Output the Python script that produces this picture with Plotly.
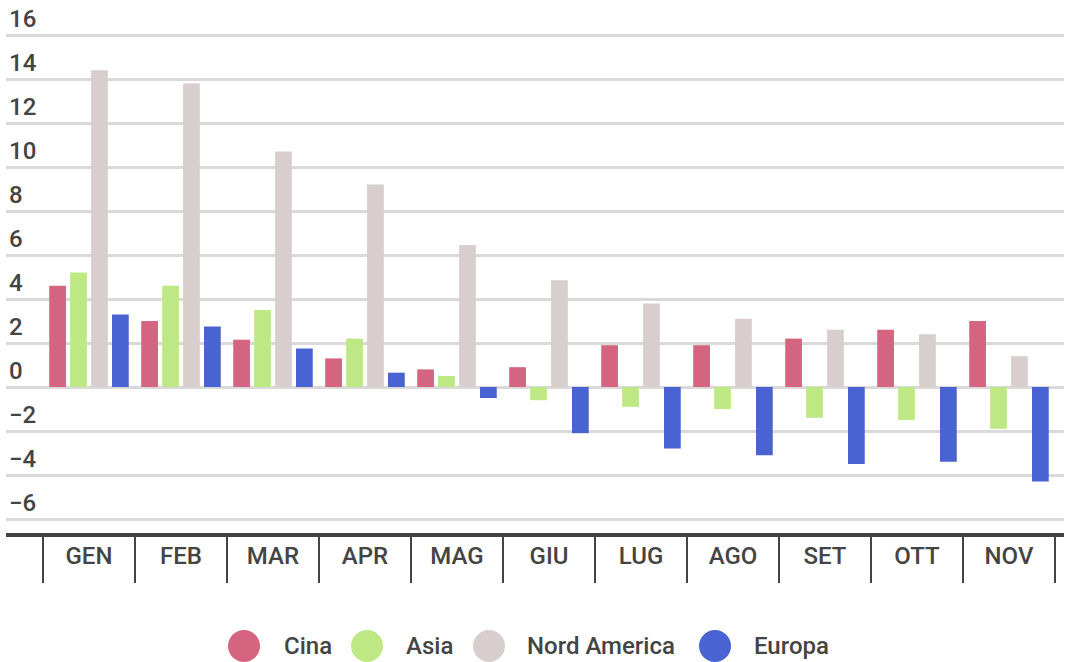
import plotly.graph_objects as go

# Monthly values per region
months = ["GEN", "FEB", "MAR", "APR", "MAG", "GIU", "LUG", "AGO", "SET", "OTT", "NOV"]
cina = [4.6, 3.0, 2.15, 1.3, 0.8, 0.9, 1.9, 1.9, 2.2, 2.6, 3.0]
asia = [5.2, 4.6, 3.5, 2.2, 0.5, -0.6, -0.9, -1.0, -1.4, -1.5, -1.9]
nord_america = [14.4, 13.8, 10.7, 9.2, 6.45, 4.85, 3.8, 3.1, 2.6, 2.4, 1.4]
europa = [3.3, 2.75, 1.75, 0.65, -0.5, -2.1, -2.8, -3.1, -3.5, -3.4, -4.3]

series_names = ["Cina", "Asia", "Nord America", "Europa"]
series_values = [cina, asia, nord_america, europa]
series_colors = ["#D46480", "#BEE884", "#D8CECD", "#4A63D2"]

W, H = 1071, 662
M_L, M_R, M_T, M_B = 6, 7, 0, 129
PLOT_W = W - M_L - M_R
PLOT_H = H - M_T - M_B
TEXT = "#444444"
FONT = "Roboto"
FONT_W = 500

fig = go.Figure()
for name, vals, col in zip(series_names, series_values, series_colors):
    fig.add_trace(go.Bar(x=months, y=vals, name=name, marker=dict(color=col, line=dict(width=0)),
                         showlegend=False))

# Custom legend: large round swatches with labels underneath the plot
legend_circle_px = [244, 367, 489, 715]
legend_text_px = [282, 404, 525, 752]
legend_y = (H - M_B - 646) / PLOT_H
shapes = []
annotations = []
for name, col, cx, tx in zip(series_names, series_colors, legend_circle_px, legend_text_px):
    xp = (cx - M_L) / PLOT_W
    shapes.append(dict(type="circle", xref="paper", yref="paper",
                       xsizemode="pixel", ysizemode="pixel",
                       xanchor=xp, yanchor=legend_y,
                       x0=-16, x1=16, y0=-16, y1=16,
                       fillcolor=col, line=dict(width=0)))
    annotations.append(dict(xref="paper", yref="paper", x=(tx - M_L) / PLOT_W, y=legend_y,
                            xanchor="left", yanchor="middle", showarrow=False,
                            text=name, font=dict(family=FONT, size=24, color=TEXT, weight=FONT_W)))

# y scale: 0 sits 387 px from the top, 22 px per unit
y_top = 387 / 22
y_bottom = -(533 - 387) / 22

fig.update_layout(
    width=W, height=H,
    margin=dict(l=M_L, r=M_R, t=M_T, b=M_B, pad=0),
    paper_bgcolor="white", plot_bgcolor="white",
    barmode="group", bargap=0.09, bargroupgap=0.2,
    shapes=shapes, annotations=annotations,
    xaxis=dict(
        type="category",
        range=[-0.902, 10.598],
        showgrid=False, zeroline=False,
        showline=True, linecolor=TEXT, linewidth=4,
        ticks="outside", tickson="boundaries", ticklen=46, tickwidth=2, tickcolor=TEXT,
        ticklabelstandoff=-2,
        tickfont=dict(family=FONT, size=24, color=TEXT, weight=FONT_W),
        fixedrange=True,
    ),
    yaxis=dict(
        range=[y_bottom, y_top],
        dtick=2, tick0=0,
        showgrid=True, gridcolor="#D9D9D9", gridwidth=3,
        zeroline=False, showline=False,
        ticks="", ticklabelposition="inside top",
        tickfont=dict(family=FONT, size=24, color=TEXT, weight=FONT_W),
        fixedrange=True,
    ),
)

fig.write_html("out.html")
